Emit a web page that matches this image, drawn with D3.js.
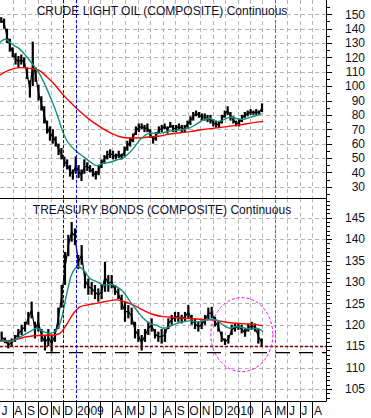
<!DOCTYPE html>
<html>
<head>
<meta charset="utf-8">
<script src="https://cdn.jsdelivr.net/npm/d3@7"></script>
<style>
  body { margin: 0; background: #fff; }
  svg { display: block; font-family: "Liberation Sans", Arial, sans-serif; }
</style>
</head>
<body>
<div id="chart"></div>
<script>
// weekly high / low of crude oil, first bar week of 2008-07-04
const oilStart = "2008-07-04";
const oilStepDays = 6.98;
const oilHigh = [148,147,140,133,127,123,121,122,120,113,104,131,113,101,93,86,76,72,70,65,60,57,51,49,45,42,51,45,42,49,47,45,43,41,45,49,52,55,56,55,53,55,53,58,62,64,67,72,74,74,73,74,70,65,68,72,73,74,72,75,73,73,74,73,73,76,79,82,83,82,81,81,80,80,77,76,75,80,83,86,82,79,76,77,80,82,83,84,83,84,83,88];
const oilLow  = [144,140,130,124,120,115,113,115,113,105,92,100,103,90,83,74,67,62,60,58,52,49,44,42,37,35,39,36,34,39,41,40,37,35,38,43,46,49,50,49,49,50,49,51,55,58,61,66,68,70,68,68,64,60,62,67,68,70,67,71,68,68,70,68,68,71,73,76,79,78,76,76,75,74,72,71,71,74,78,80,76,74,72,72,75,78,79,80,80,80,80,82];

// bond bars, first bar 2008-07-05
const bondStart = "2008-07-05";
const bondStepDays = 8.12;
const bondHigh = [118.4,117,116,116.8,117.6,119,120,120.7,123,125.4,120.7,123,119,117.6,119,117.6,119,124,129.3,137,141,144,142.5,136.3,138.6,132.4,130.8,130,129.3,128.5,129.3,134.7,131.6,131.6,129.3,128.5,127,125.4,124.6,124,120.7,119,117.6,119,120.7,121.5,119,118.4,119,119,121.5,122.3,123,123,122.3,123,124.6,122.3,121.5,120.7,121,122.3,124,124.2,121.9,120.7,118.4,116.8,117.6,120,120.3,120.3,120,119,120.3,120.7,120.3,119,116.8];
const bondLow  = [116,115.7,114.5,114.9,116,116.8,117.6,118.4,120,121.5,116.8,118.4,116,114,115,113.7,116,119,124,129.3,136,139.4,138.6,133,134,128.5,127,127,126,125.4,126,127.7,127.7,128.5,127,126,123.5,120.7,121.5,120,116.8,116,114,116,117.6,118.4,116.8,116,115.6,116,119,120,120.7,120.7,120.3,120.7,121.5,120,119,118.4,119,120,121.2,121.5,119.6,118.4,116,115.3,115.6,117.6,118.4,118.8,118,117.2,118.4,118.8,118.4,115.6,114.9];

// moving averages
const oilFastMA = [["2008-07-01",130.3],["2008-07-13",132.6],["2008-08-02",128.7],["2008-08-19",125.6],["2008-09-04",120.5],["2008-09-20",114.7],["2008-10-02",110.1],["2008-10-15",103.1],["2008-10-31",92.7],["2008-11-16",81.1],["2008-11-28",70.6],["2008-12-10",62.5],["2008-12-22",57.9],["2009-01-04",54.4],["2009-01-20",50.9],["2009-02-05",47.4],["2009-02-21",44.7],["2009-03-10",46.3],["2009-03-26",47.0],["2009-04-11",48.6],["2009-04-27",49.8],["2009-05-09",52.8],["2009-05-22",56.7],["2009-06-03",61.4],["2009-06-15",64.8],["2009-07-01",67.2],["2009-07-17",67.2],["2009-08-03",67.6],["2009-08-19",68.8],["2009-09-12",69.5],["2009-10-07",71.1],["2009-10-23",73.7],["2009-11-08",76.5],["2009-11-24",77.6],["2009-12-11",75.3],["2009-12-27",76.5],["2010-01-12",78.3],["2010-01-28",77.4],["2010-02-13",76.9],["2010-03-02",78.3],["2010-03-18",79.5],["2010-03-30",81.1]];
const oilSlowMA = [["2008-07-01",107.8],["2008-07-25",111.3],["2008-08-19",112.9],["2008-09-12",112.4],["2008-10-02",111.3],["2008-10-23",106.6],["2008-11-12",100.8],["2008-12-02",93.9],["2008-12-22",88.1],["2009-01-12",82.3],["2009-02-05",76.5],["2009-03-01",71.8],["2009-03-26",67.6],["2009-04-19",64.8],["2009-05-14",63.9],["2009-06-07",63.9],["2009-07-01",64.8],["2009-07-26",65.3],["2009-08-19",66.7],["2009-09-12",67.6],["2009-10-07",68.3],["2009-10-31",69.5],["2009-12-02",70.6],["2010-01-04",71.8],["2010-02-05",73.0],["2010-03-10",74.6],["2010-04-03",75.5]];
const bondFastMA = [["2008-07-01",116.2],["2008-07-25",116.1],["2008-08-19",117.2],["2008-09-12",118.4],["2008-09-28",119.2],["2008-10-15",118.4],["2008-10-31",118.0],["2008-11-16",118.8],["2008-11-28",121.5],["2008-12-10",127.0],["2008-12-22",131.6],["2009-01-08",133.6],["2009-01-20",132.8],["2009-02-05",130.8],["2009-02-21",130.1],["2009-03-10",129.3],["2009-03-30",129.4],["2009-04-11",128.9],["2009-04-27",127.7],["2009-05-14",125.4],["2009-05-30",123.4],["2009-06-15",121.5],["2009-07-01",120.3],["2009-07-17",119.9],["2009-08-03",119.2],["2009-08-19",119.6],["2009-09-04",120.3],["2009-09-20",120.7],["2009-10-07",120.9],["2009-10-23",120.7],["2009-11-08",120.9],["2009-11-24",121.3],["2009-12-11",121.1],["2009-12-27",119.9],["2010-01-12",119.2],["2010-01-28",119.6],["2010-02-13",119.3],["2010-03-02",119.0],["2010-03-18",119.2],["2010-04-03",118.4]];
const bondSlowMA = [["2008-07-01",116.2],["2008-08-02",116.4],["2008-09-04",117.2],["2008-10-06",117.5],["2008-11-08",117.6],["2008-11-24",118.0],["2008-12-10",120.0],["2008-12-27",122.7],["2009-01-12",124.2],["2009-01-28",124.6],["2009-02-21",125.0],["2009-03-18",125.5],["2009-04-11",125.8],["2009-04-27",125.5],["2009-05-22",124.6],["2009-06-15",123.4],["2009-07-09",122.4],["2009-08-03",121.9],["2009-08-27",121.7],["2009-09-28",121.5],["2009-10-31",121.3],["2009-12-02",121.1],["2010-01-04",120.6],["2010-02-05",120.3],["2010-03-10",120.1],["2010-04-03",119.8]];

const oilTicks = [150,140,130,120,110,100,90,80,70,60,50,40,30];
const bondTicks = [145,140,135,130,125,120,115,110,105];
const blueLines = ["2008-12-01","2009-01-01"];
const pinkLine = "2010-05-01";
const bondSupport = 113.5;   // black long dashes
const bondRecent = 114.9;    // dark red dotted

const parse = d3.timeParse("%Y-%m-%d");
const W = 371, H = 418;
const right = 326;
const topPanel = {y0: 0, y1: 198.5};
const botPanel = {y0: 198.5, y1: 401.5};

const svg = d3.select("#chart").append("svg")
  .attr("width", W).attr("height", H);

const x = d3.scaleTime()
  .domain([parse("2008-07-01"), parse("2010-09-03")])
  .range([0, right]);

const yOil = d3.scaleLinear().domain([150, 30]).range([14.3, 186.7]);
const yBond = d3.scaleLinear().domain([145, 105]).range([217.7, 389]);

const months = d3.timeMonth.range(parse("2008-07-01"), parse("2010-09-01"));

function bars(start, step, hi, lo) {
  const s = parse(start);
  return hi.map((h, i) => ({
    date: new Date(s.getTime() + i * step * 864e5),
    hi: h, lo: lo[i]
  }));
}

function drawPanel(p, y, ticks, minorStep, minorRange, title, hi, lo, fast, slow, id) {
  svg.append("clipPath").attr("id", id)
    .append("rect").attr("x", 0).attr("y", p.y0).attr("width", right).attr("height", p.y1 - p.y0);
  const g = svg.append("g").attr("clip-path", `url(#${id})`);

  // grid
  g.selectAll(".hgrid").data(ticks).join("line")
    .attr("x1", 0).attr("x2", right)
    .attr("y1", d => Math.round(y(d)) + 0.5).attr("y2", d => Math.round(y(d)) + 0.5)
    .attr("stroke", "#b4b4b4").attr("stroke-dasharray", "4,3");
  g.selectAll(".vgrid").data(months.slice(1)).join("line")
    .attr("x1", d => Math.round(x(d)) + 0.5).attr("x2", d => Math.round(x(d)) + 0.5)
    .attr("y1", p.y0).attr("y2", p.y1)
    .attr("stroke", "#b4b4b4").attr("stroke-dasharray", "4,3");

  // price bars
  const data = bars(hi.start, hi.step, hi.values, lo);
  g.append("path")
    .datum(data)
    .attr("fill", "none").attr("stroke", "#000").attr("stroke-width", 1.2)
    .attr("d", d3.line().x(d => x(d.date)).y(d => y((d.hi + d.lo) / 2)));
  g.selectAll(".bar").data(data).join("rect")
    .attr("x", d => x(d.date) - 1.1)
    .attr("width", 2.2)
    .attr("y", d => y(d.hi))
    .attr("height", d => y(d.lo) - y(d.hi))
    .attr("fill", "#000");

  const maLine = d3.line().curve(d3.curveMonotoneX)
    .x(d => x(parse(d[0]))).y(d => y(d[1]));
  g.append("path").attr("d", maLine(slow))
    .attr("fill", "none").attr("stroke", "#ff0000").attr("stroke-width", 1.4);
  g.append("path").attr("d", maLine(fast))
    .attr("fill", "none").attr("stroke", "#12907e").attr("stroke-width", 1.4);

  // title
  svg.append("text")
    .attr("x", 162).attr("y", p.y0 + 15)
    .attr("text-anchor", "middle")
    .attr("font-size", "12px")
    .attr("fill", "#10102a")
    .text(title);

  // right axis ticks + labels
  const minor = d3.range(minorRange[0], minorRange[1] + 0.001, minorStep)
    .filter(v => y(v) > p.y0 + 1 && y(v) < p.y1 - 1);
  svg.selectAll(null).data(minor).join("line")
    .attr("x1", right).attr("x2", d => right + (ticks.includes(d) ? 6 : 4))
    .attr("y1", d => Math.round(y(d)) + 0.5).attr("y2", d => Math.round(y(d)) + 0.5)
    .attr("stroke", "#000");
  svg.selectAll(null).data(ticks).join("text")
    .attr("x", 365).attr("y", d => y(d))
    .attr("dy", "0.36em")
    .attr("text-anchor", "end")
    .attr("font-size", "12px")
    .attr("fill", "#10102a")
    .text(d => d);
  return g;
}

const gOil = drawPanel(topPanel, yOil, oilTicks, 5, [25, 160], "CRUDE LIGHT OIL (COMPOSITE) Continuous",
  {start: oilStart, step: oilStepDays, values: oilHigh}, oilLow, oilFastMA, oilSlowMA, "clipOil");
const gBond = drawPanel(botPanel, yBond, bondTicks, 1, [100, 150], "TREASURY BONDS (COMPOSITE) Continuous",
  {start: bondStart, step: bondStepDays, values: bondHigh}, bondLow, bondFastMA, bondSlowMA, "clipBond");

// support / resistance lines in bond panel
gBond.append("line")
  .attr("x1", 0).attr("x2", right)
  .attr("y1", yBond(bondSupport)).attr("y2", yBond(bondSupport))
  .attr("stroke", "#000").attr("stroke-width", 1.2).attr("stroke-dasharray", "14,9");
gBond.append("line")
  .attr("x1", 0).attr("x2", right)
  .attr("y1", yBond(bondRecent)).attr("y2", yBond(bondRecent))
  .attr("stroke", "#8b0000").attr("stroke-width", 1.5).attr("stroke-dasharray", "3,2");

// dashed ellipse around latest bond action
gBond.append("ellipse")
  .attr("cx", x(parse("2010-02-10"))).attr("cy", yBond(117.7))
  .attr("rx", 31).attr("ry", 37)
  .attr("fill", "none").attr("stroke", "#ff00ff").attr("stroke-dasharray", "3,2");

// vertical markers across both panels
svg.selectAll(".blue").data(blueLines).join("line")
  .attr("x1", d => Math.round(x(parse(d))) + 0.5).attr("x2", d => Math.round(x(parse(d))) + 0.5)
  .attr("y1", 0).attr("y2", botPanel.y1)
  .attr("stroke", "#0000ff").attr("stroke-dasharray", "3,2");
svg.append("line")
  .attr("x1", Math.round(x(parse(pinkLine))) + 0.5).attr("x2", Math.round(x(parse(pinkLine))) + 0.5)
  .attr("y1", 0).attr("y2", botPanel.y1)
  .attr("stroke", "#ff00ff").attr("stroke-dasharray", "3,2");

// frame
svg.append("line").attr("x1", 0).attr("x2", right).attr("y1", topPanel.y1).attr("y2", topPanel.y1).attr("stroke", "#000");
svg.append("line").attr("x1", 0).attr("x2", right).attr("y1", botPanel.y1).attr("y2", botPanel.y1).attr("stroke", "#000");
svg.append("line").attr("x1", right + 0.5).attr("x2", right + 0.5).attr("y1", 0).attr("y2", botPanel.y1).attr("stroke", "#000");

// month row
const monthLabel = d => {
  const m = d.getMonth();
  if (m === 0) return d.getFullYear();
  if (m === 1 || m === 2) return "";
  return d3.timeFormat("%b")(d)[0];
};
svg.selectAll(".mlab").data(months).join("text")
  .attr("x", d => x(d) + 1.5).attr("y", 415)
  .attr("font-size", "12px")
  .attr("fill", "#10102a")
  .text(monthLabel);
svg.selectAll(".mtick").data(months.slice(1)).join("line")
  .attr("x1", d => Math.round(x(d)) + 0.5).attr("x2", d => Math.round(x(d)) + 0.5)
  .attr("y1", botPanel.y1).attr("y2", H)
  .attr("stroke", "#000");
</script>
</body>
</html>
